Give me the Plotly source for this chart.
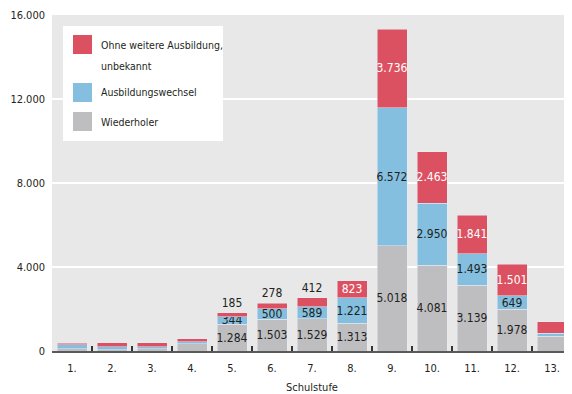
import plotly.graph_objects as go

categories = ["1.", "2.", "3.", "4.", "5.", "6.", "7.", "8.", "9.", "10.", "11.", "12.", "13."]
wiederholer = [110, 50, 110, 350, 1284, 1503, 1529, 1313, 5018, 4081, 3139, 1978, 700]
wechsel = [190, 160, 100, 100, 344, 500, 589, 1221, 6572, 2950, 1493, 649, 145]
ohne = [80, 180, 180, 130, 185, 278, 412, 823, 3736, 2463, 1841, 1501, 560]
labeled = [False, False, False, False, True, True, True, True, True, True, True, True, False]
ohne_outside = [False, False, False, False, True, True, True, False, False, False, False, False, False]

y_ticks = [0, 4000, 8000, 12000, 16000]
y_tick_text = ["0", "4.000", "8.000", "12.000", "16.000"]

series_names = ["Wiederholer", "Ausbildungswechsel", "Ohne weitere Ausbildung,<br>unbekannt"]
colors = ["#BEBEC0", "#84BFDF", "#DC5161"]

FONT = "DejaVu Sans Condensed, Liberation Sans, sans-serif"
DARK = "#231f20"
LABEL_SIZE = 12

# page body has an 8px default margin; compensate so the plot lands where the reference has it
OFF = 8


def fmt(v):
    return f"{v:,}".replace(",", ".")


def labels(vals):
    return [fmt(v) if s else "" for v, s in zip(vals, labeled)]


fig = go.Figure()
fig.add_trace(go.Bar(
    x=categories, y=wiederholer, name=series_names[0], marker_color=colors[0],
    text=labels(wiederholer), textposition="inside", insidetextanchor="middle",
    textangle=0, constraintext="none", textfont=dict(color=DARK, size=LABEL_SIZE, family=FONT),
    hoverinfo="skip",
))
fig.add_trace(go.Bar(
    x=categories, y=wechsel, name=series_names[1], marker_color=colors[1],
    text=labels(wechsel), textposition="inside", insidetextanchor="middle",
    textangle=0, constraintext="none", textfont=dict(color=DARK, size=LABEL_SIZE, family=FONT),
    hoverinfo="skip",
))
fig.add_trace(go.Bar(
    x=categories, y=ohne, name=series_names[2], marker_color=colors[2],
    text=labels(ohne),
    textposition=["outside" if o else "inside" for o in ohne_outside],
    insidetextanchor="middle", textangle=0, constraintext="none", cliponaxis=False,
    textfont=dict(color=[DARK if o else "white" for o in ohne_outside], size=LABEL_SIZE, family=FONT),
    hoverinfo="skip",
))

fig.update_layout(
    width=572 - OFF, height=394 - OFF,
    barmode="stack", bargap=0.25,
    paper_bgcolor="white", plot_bgcolor="#E8E8E8",
    margin=dict(l=52 - OFF, r=0, t=15 - OFF, b=43, autoexpand=False),
    showlegend=False,
    font=dict(family=FONT, size=11, color=DARK),
)
fig.update_yaxes(
    range=[0, 16000], tickvals=y_ticks, ticktext=y_tick_text,
    showgrid=True, gridcolor="white", gridwidth=1.5, zeroline=False,
    showline=False, ticks="", tickfont=dict(size=11, family=FONT, color=DARK),
    ticklabelstandoff=6, automargin=False,
)
fig.update_xaxes(
    showline=True, linecolor="#5a5a5a", linewidth=2,
    ticks="inside", tickson="boundaries", ticklen=5, tickwidth=1.5, tickcolor="#333",
    tickfont=dict(size=11, family=FONT, color=DARK), automargin=False,
    ticklabelstandoff=6,
    title=dict(text="Schulstufe", font=dict(size=11, family=FONT, color=DARK), standoff=10),
)

# Legend box (custom, large square swatches); positions given in page pixels
def px_x(p):
    return (p - 52) / 520


def px_y(p):
    return (351 - p) / 336


fig.add_shape(type="rect", xref="paper", yref="paper",
              x0=px_x(63), x1=px_x(223), y0=px_y(141), y1=px_y(26),
              fillcolor="white", line=dict(width=0), layer="above")
swatches = [(colors[2], 35, 54), (colors[1], 83, 102), (colors[0], 112, 131)]
for col, top, bot in swatches:
    fig.add_shape(type="rect", xref="paper", yref="paper",
                  x0=px_x(73), x1=px_x(92), y0=px_y(bot), y1=px_y(top),
                  fillcolor=col, line=dict(width=0), layer="above")
legend_texts = [("Ohne weitere Ausbildung,", 45), ("unbekannt", 66),
                ("Ausbildungswechsel", 92), ("Wiederholer", 122)]
for txt, yc in legend_texts:
    fig.add_annotation(xref="paper", yref="paper", x=px_x(99), y=px_y(yc),
                       text=txt, showarrow=False, xanchor="left", yanchor="middle",
                       font=dict(size=10.5, family=FONT, color=DARK))

fig.write_html("out.html")
